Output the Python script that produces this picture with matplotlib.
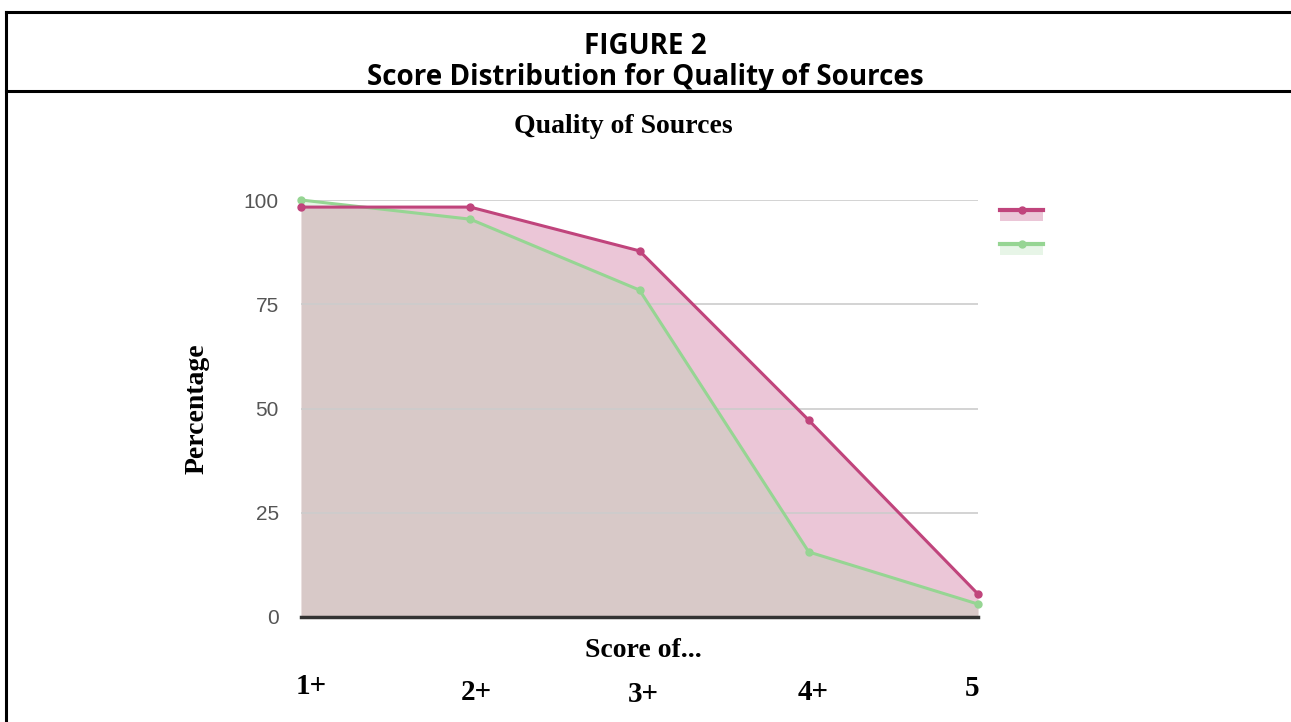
import matplotlib.pyplot as plt
from matplotlib.lines import Line2D

# data
categories = ["1+", "2+", "3+", "4+", "5"]
series_a = [98.3, 98.3, 87.8, 47.2, 5.5]
series_b = [100.0, 95.4, 78.4, 15.6, 3.1]
y_ticks = [0, 25, 50, 75, 100]

pink = "#c0447c"
green = "#96d593"
serif = "Liberation Serif"
sans = "Liberation Sans"

fig = plt.figure(figsize=(12.91, 7.22), dpi=100)
W, H = 1291, 722


def fx(px):
    return px / W


def fy(py):
    return 1 - py / H


# header frame
frame = dict(color="black", lw=2.2, transform=fig.transFigure)
fig.add_artist(Line2D([fx(6), 1.0], [fy(12), fy(12)], **frame))
fig.add_artist(Line2D([fx(6), 1.0], [fy(91), fy(91)], **frame))
fig.add_artist(Line2D([fx(6), fx(6)], [fy(12), 0], **frame))

fig.text(0.5, fy(54), "FIGURE 2", ha="center", va="baseline",
         family="Open Sans", weight="bold", fontsize=20)
fig.text(0.5, fy(85), "Score Distribution for Quality of Sources", ha="center",
         va="baseline", family="Open Sans", weight="bold", fontsize=20)

ax = fig.add_axes([fx(301), fy(617), fx(978) - fx(301), fy(200) - fy(617)])
x = list(range(len(categories)))

ax.fill_between(x, series_a, 0, color=pink, alpha=0.3, lw=0)
ax.fill_between(x, series_b, 0, color=green, alpha=0.22, lw=0)
ax.plot(x, series_b, color=green, lw=2.2, marker="o", ms=5, clip_on=False, zorder=3)
ax.plot(x, series_a, color=pink, lw=2.2, marker="o", ms=5, clip_on=False, zorder=4)

ax.set_xlim(0, len(categories) - 1)
ax.set_ylim(0, 100)
ax.set_yticks(y_ticks)
ax.set_yticklabels([str(v) for v in y_ticks], family=sans, fontsize=15, color="#555555")
ax.tick_params(axis="y", length=0, pad=16)
ax.set_xticks([])
for v in y_ticks[1:]:
    ax.axhline(v, color="#cccccc", lw=1.2, zorder=1)
ax.axhline(0, color="#333333", lw=2.5, zorder=5, clip_on=False)
for s in ax.spines.values():
    s.set_visible(False)
ax.set_facecolor("none")

fig.text(fx(623), fy(133), "Quality of Sources", ha="center", va="baseline",
         family=serif, weight="bold", fontsize=20)
fig.text(fx(197), fy(409), "Percentage", ha="center", va="center", rotation=90,
         family=serif, weight="bold", fontsize=20)
fig.text(fx(643), fy(657), "Score of...", ha="center", va="baseline",
         family=serif, weight="bold", fontsize=20)

# category labels sit on their own row under the axis title
label_x = [311, 476, 643, 813, 972]
label_y = [687, 692, 694, 692, 688]
for lab, lx, ly in zip(categories, label_x, label_y):
    fig.text(fx(lx), fy(ly), lab, ha="center", va="center",
             family=serif, weight="bold", fontsize=21)

# legend swatches without labels
for col, top, a in [(pink, 210, 0.3), (green, 244, 0.22)]:
    lax = fig.add_axes([fx(1000), fy(top + 11), fx(1043) - fx(1000), fy(top) - fy(top + 11)])
    lax.fill_between([0, 1], [1, 1], 0, color=col, alpha=a, lw=0)
    lax.plot([0, 1], [1, 1], color=col, lw=3, clip_on=False)
    lax.plot([0.5], [1], "o", color=col, ms=5, clip_on=False)
    lax.set_xlim(0, 1)
    lax.set_ylim(0, 1)
    lax.axis("off")

fig.savefig("out.png", dpi=100)
